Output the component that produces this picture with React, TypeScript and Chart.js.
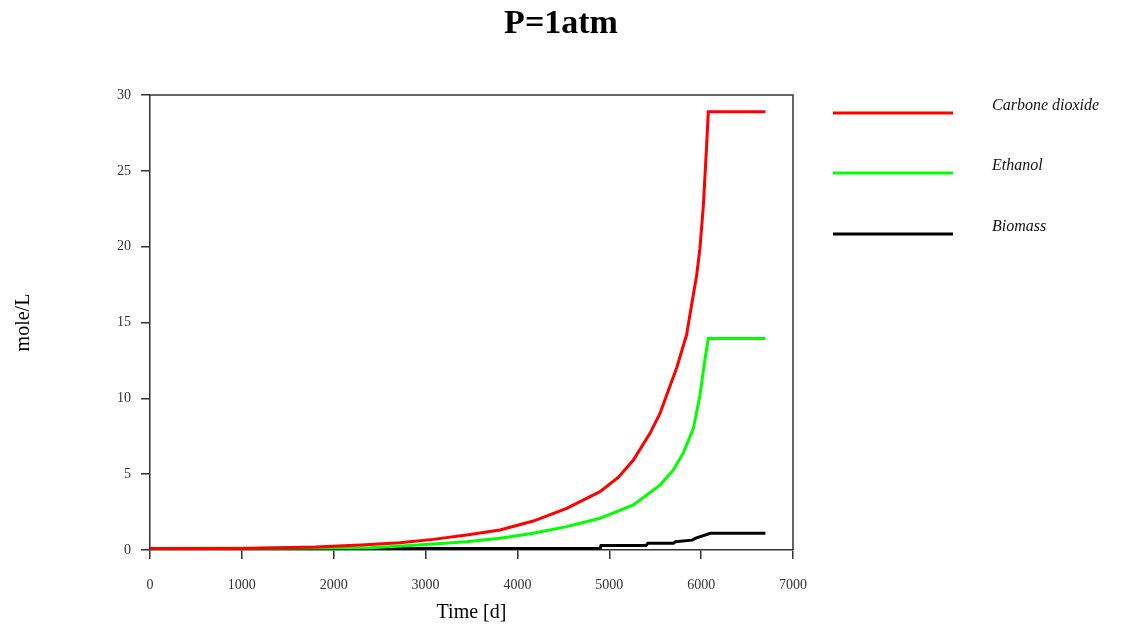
import React, { useEffect, useRef } from "react";
import { Chart, registerables } from "chart.js";

Chart.register(...registerables);

const chartTitle = "P=1atm";
const xTitle = "Time [d]";
const yTitle = "mole/L";

const co2Time = [0, 1000, 1800, 2300, 2722, 3084, 3447, 3810, 4173, 4536, 4899, 5100, 5262, 5443, 5552, 5624, 5733, 5842, 5897, 5951, 5987, 6024, 6060, 6078, 6700];
const carbonDioxide = [0.1, 0.1, 0.2, 0.33, 0.48, 0.7, 0.99, 1.32, 1.91, 2.75, 3.85, 4.8, 5.93, 7.69, 9.0, 10.2, 12.0, 14.2, 16.2, 18.1, 19.9, 22.7, 26.7, 28.9, 28.9];

const ethanolTime = [0, 2400, 2750, 3084, 3447, 3810, 4173, 4536, 4899, 5262, 5552, 5700, 5806, 5915, 5987, 6042, 6078, 6700];
const ethanol = [0.1, 0.15, 0.27, 0.4, 0.55, 0.77, 1.1, 1.54, 2.09, 2.97, 4.28, 5.3, 6.4, 8.0, 10.2, 12.6, 13.95, 13.95];

const biomassTime = [0, 4900, 4910, 5400, 5420, 5700, 5720, 5900, 5950, 6100, 6700];
const biomass = [0.1, 0.1, 0.3, 0.3, 0.45, 0.45, 0.55, 0.65, 0.8, 1.1, 1.1];

const seriesNames = ["Carbone dioxide", "Ethanol", "Biomass"];
const seriesColors = ["#ff0000", "#00ff00", "#000000"];

const xTicks = [0, 1000, 2000, 3000, 4000, 5000, 6000, 7000];
const yTicks = [0, 5, 10, 15, 20, 25, 30];

const SERIF = "'Liberation Serif', 'DejaVu Serif', serif";

const decorPlugin = {
  id: "decor",
  afterDraw(chart: any) {
    const { ctx, chartArea } = chart;
    ctx.save();
    ctx.strokeStyle = "#333";
    ctx.lineWidth = 1.5;
    ctx.beginPath();
    ctx.moveTo(chartArea.left, chartArea.top);
    ctx.lineTo(chartArea.right, chartArea.top);
    ctx.lineTo(chartArea.right, chartArea.bottom);
    ctx.stroke();
    ctx.fillStyle = "#000";
    ctx.font = `bold 34px ${SERIF}`;
    ctx.textAlign = "center";
    ctx.textBaseline = "middle";
    ctx.fillText(chartTitle, 561, 24);
    const ys = [113, 173, 234];
    chart.data.datasets.forEach((ds: any, i: number) => {
      ctx.strokeStyle = ds.borderColor;
      ctx.lineWidth = 3;
      ctx.beginPath();
      ctx.moveTo(833, ys[i]);
      ctx.lineTo(953, ys[i]);
      ctx.stroke();
      ctx.fillStyle = "#111";
      ctx.font = `italic 16px ${SERIF}`;
      ctx.textAlign = "left";
      ctx.textBaseline = "middle";
      ctx.fillText(ds.label, 992, ys[i] - 7);
    });
    ctx.restore();
  },
};

const toPoints = (xs: number[], ys: number[]) => xs.map((x, i) => ({ x, y: ys[i] }));

export default function App() {
  const canvasRef = useRef<HTMLCanvasElement>(null);
  useEffect(() => {
    const canvas = canvasRef.current!;
    const common = { borderWidth: 3, pointRadius: 0, tension: 0 };
    const chart = new Chart(canvas, {
      type: "line",
      data: {
        datasets: [
          { label: seriesNames[0], data: toPoints(co2Time, carbonDioxide), borderColor: seriesColors[0], ...common },
          { label: seriesNames[1], data: toPoints(ethanolTime, ethanol), borderColor: seriesColors[1], ...common },
          { label: seriesNames[2], data: toPoints(biomassTime, biomass), borderColor: seriesColors[2], ...common },
        ],
      },
      options: {
        animation: false,
        responsive: false,
        layout: { padding: { left: 0, right: 344, top: 95, bottom: 0 } },
        plugins: {
          legend: { display: false },
          title: { display: false },
          tooltip: { enabled: false },
        },
        scales: {
          x: {
            type: "linear",
            min: 0,
            max: 7000,
            afterFit: (s: any) => { s.height = 77; },
            afterBuildTicks: (s: any) => { s.ticks = xTicks.map((v) => ({ value: v })); },
            grid: { drawOnChartArea: false, tickLength: 9, color: "#333", lineWidth: 1.5 },
            border: { color: "#333", width: 1.5 },
            ticks: { padding: 18, color: "#333", font: { family: SERIF, size: 14 }, maxRotation: 0, callback: (v: any) => String(v) },
            title: { display: true, text: xTitle, color: "#000", font: { family: SERIF, size: 20 }, padding: { top: 0, bottom: 2 } },
          },
          y: {
            min: 0,
            max: 30,
            afterFit: (s: any) => { s.width = 150; },
            afterBuildTicks: (s: any) => { s.ticks = yTicks.map((v) => ({ value: v })); },
            grid: { drawOnChartArea: false, tickLength: 9, color: "#333", lineWidth: 1.5 },
            border: { color: "#333", width: 1.5 },
            ticks: { padding: 10, color: "#333", font: { family: SERIF, size: 14 }, callback: (v: any) => String(v) },
            title: { display: true, text: yTitle, color: "#000", font: { family: SERIF, size: 20 }, padding: { top: 12, bottom: 0 } },
          },
        },
      },
      plugins: [decorPlugin],
    } as any);
    return () => chart.destroy();
  }, []);
  return (
    <div style={{ position: "fixed", left: 0, top: 0, width: 1137, height: 627, background: "#fff" }}>
      <canvas ref={canvasRef} width={1137} height={627} />
    </div>
  );
}
